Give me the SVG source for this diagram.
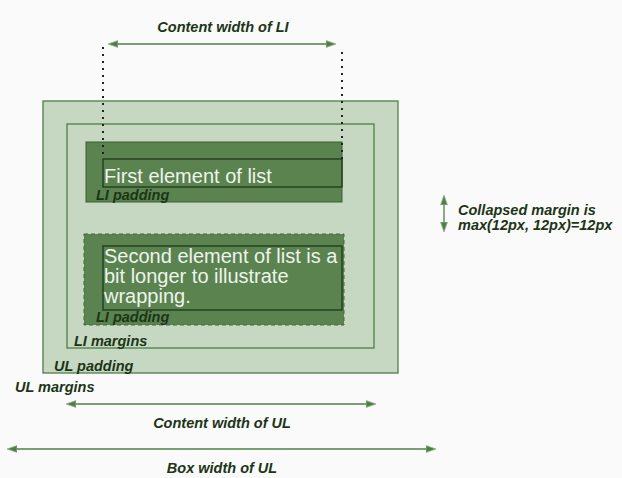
<svg xmlns="http://www.w3.org/2000/svg" width="622" height="478" viewBox="0 0 622 478">
<style>
.lbl{font-family:"Liberation Sans",Arial,sans-serif;font-style:italic;font-weight:bold;font-size:14.5px;fill:#1c3517;}
.wt{font-family:"Liberation Sans",Arial,sans-serif;font-size:20px;fill:#eef4ec;}
.ln{stroke:#4f7f47;stroke-width:1.3;fill:none;}
.dot{stroke:#222;stroke-width:2;stroke-dasharray:2 5;fill:none;}
</style>
<defs>
<marker id="ah" viewBox="0 0 10 8" refX="9" refY="4" markerWidth="10" markerHeight="8" markerUnits="userSpaceOnUse" orient="auto-start-reverse">
<path d="M0,0.5 L10,4 L0,7.5 Z" fill="#4f7f47" stroke="#9cb896" stroke-width="0.8"/>
</marker>
</defs>
<rect width="622" height="478" fill="#fafafa"/>
<g id="ul-box">
<rect x="43" y="101" width="355" height="272" fill="#c6d8c2" stroke="#4f7f47" stroke-width="1.3"/>
<text class="lbl" x="54" y="371">UL padding</text>
</g>
<g id="ul-content">
<rect x="67" y="124" width="307" height="224" fill="none" stroke="#4f7f47" stroke-width="1.3"/>
<text class="lbl" x="74" y="346">LI margins</text>
</g>
<g id="li1">
<rect x="86" y="142" width="256" height="60" fill="#5b8350" stroke="#3a5f33" stroke-width="1"/>
<rect x="103" y="159" width="239" height="28" fill="none" stroke="#1e3818" stroke-width="1.3"/>
<text class="wt" x="104" y="183">First element of list</text>
<text class="lbl" x="96" y="200">LI padding</text>
</g>
<g id="li2">
<rect x="84" y="234" width="260" height="91" fill="#5b8350" stroke="#3f6a37" stroke-width="1" stroke-dasharray="4 3"/>
<rect x="103" y="246" width="239" height="64" fill="none" stroke="#1e3818" stroke-width="1.3"/>
<text class="wt" x="104" y="263">Second element of list is a</text>
<text class="wt" x="104" y="283">bit longer to illustrate</text>
<text class="wt" x="104" y="303">wrapping.</text>
<text class="lbl" x="96" y="322">LI padding</text>
</g>
<g id="labels">
<text class="lbl" x="15" y="392">UL margins</text>
<text class="lbl" x="223" y="32" text-anchor="middle">Content width of LI</text>
<text class="lbl" x="222" y="428" text-anchor="middle">Content width of UL</text>
<text class="lbl" x="222" y="473" text-anchor="middle">Box width of UL</text>
<text class="lbl" x="458" y="215">Collapsed margin is</text>
<text class="lbl" x="458" y="230">max(12px, 12px)=12px</text>
</g>
<g id="connectors">
<line class="dot" x1="103" y1="47" x2="103" y2="159"/>
<line class="dot" x1="342" y1="52" x2="342" y2="159"/>
<line class="ln" x1="109" y1="44" x2="335" y2="44" marker-start="url(#ah)" marker-end="url(#ah)"/>
<line class="ln" x1="67" y1="404" x2="375" y2="404" marker-start="url(#ah)" marker-end="url(#ah)"/>
<line class="ln" x1="8" y1="449" x2="435" y2="449" marker-start="url(#ah)" marker-end="url(#ah)"/>
<line class="ln" x1="444" y1="196" x2="444" y2="231" marker-start="url(#ah)" marker-end="url(#ah)"/>
</g>
</svg>
